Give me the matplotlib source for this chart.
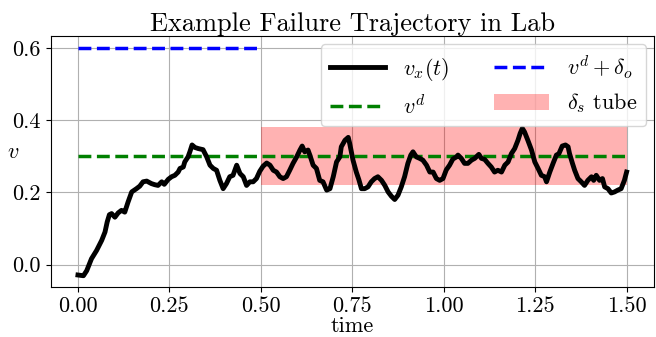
import numpy as np
import matplotlib
matplotlib.use("Agg")
import matplotlib.pyplot as plt

plt.rcParams['font.family'] = ['cmr10', 'DejaVu Serif']
plt.rcParams['mathtext.fontset'] = 'cm'
plt.rcParams['axes.formatter.use_mathtext'] = True
plt.rcParams['axes.unicode_minus'] = False

# trajectory samples
time_pts = [0.000, 0.015, 0.024, 0.037, 0.051, 0.065, 0.074, 0.080, 0.086, 0.092,
            0.101, 0.110, 0.119, 0.128, 0.137, 0.147, 0.160, 0.169, 0.178, 0.188,
            0.201, 0.210, 0.219, 0.229, 0.236, 0.247, 0.256, 0.265, 0.274, 0.279,
            0.288, 0.292, 0.301, 0.306, 0.312, 0.320, 0.329, 0.342, 0.352, 0.361,
            0.370, 0.379, 0.388, 0.397, 0.406, 0.415, 0.424, 0.434, 0.443, 0.452,
            0.461, 0.470, 0.479, 0.488, 0.497, 0.506, 0.516, 0.525, 0.534, 0.543,
            0.552, 0.561, 0.570, 0.579, 0.588, 0.598, 0.607, 0.613, 0.620, 0.629,
            0.634, 0.643, 0.652, 0.661, 0.670, 0.680, 0.689, 0.698, 0.707, 0.716,
            0.720, 0.730, 0.739, 0.743, 0.752, 0.761, 0.768, 0.775, 0.784, 0.793,
            0.802, 0.811, 0.820, 0.830, 0.839, 0.848, 0.857, 0.866, 0.875, 0.884,
            0.893, 0.902, 0.910, 0.916, 0.925, 0.934, 0.943, 0.953, 0.962, 0.971,
            0.980, 0.989, 0.998, 1.007, 1.016, 1.025, 1.035, 1.039, 1.048, 1.057,
            1.066, 1.076, 1.085, 1.096, 1.103, 1.112, 1.121, 1.130, 1.139, 1.148,
            1.158, 1.167, 1.176, 1.185, 1.194, 1.203, 1.209, 1.215, 1.221, 1.230,
            1.240, 1.249, 1.258, 1.267, 1.276, 1.281, 1.290, 1.299, 1.308, 1.315,
            1.324, 1.333, 1.340, 1.344, 1.352, 1.358, 1.367, 1.376, 1.385, 1.394,
            1.404, 1.410, 1.417, 1.426, 1.434, 1.440, 1.449, 1.458, 1.467, 1.476,
            1.485, 1.494, 1.500]
v_pts = [-0.029, -0.031, -0.017, 0.016, 0.039, 0.067, 0.090, 0.118, 0.138, 0.141,
         0.131, 0.143, 0.150, 0.145, 0.173, 0.201, 0.210, 0.217, 0.229, 0.231,
         0.224, 0.221, 0.219, 0.229, 0.222, 0.236, 0.243, 0.247, 0.256, 0.266,
         0.270, 0.284, 0.298, 0.312, 0.331, 0.324, 0.321, 0.318, 0.298, 0.275,
         0.266, 0.261, 0.233, 0.210, 0.224, 0.243, 0.247, 0.275, 0.252, 0.243,
         0.219, 0.229, 0.229, 0.238, 0.258, 0.272, 0.281, 0.275, 0.261, 0.256,
         0.243, 0.238, 0.243, 0.261, 0.280, 0.298, 0.317, 0.328, 0.312, 0.317,
         0.303, 0.275, 0.266, 0.233, 0.229, 0.206, 0.210, 0.243, 0.284, 0.298,
         0.326, 0.344, 0.352, 0.335, 0.289, 0.256, 0.235, 0.210, 0.210, 0.215,
         0.229, 0.238, 0.243, 0.233, 0.219, 0.201, 0.189, 0.180, 0.192, 0.215,
         0.243, 0.280, 0.303, 0.312, 0.298, 0.294, 0.289, 0.275, 0.256, 0.256,
         0.238, 0.233, 0.238, 0.262, 0.275, 0.292, 0.298, 0.303, 0.294, 0.280,
         0.280, 0.289, 0.294, 0.305, 0.294, 0.291, 0.280, 0.270, 0.256, 0.261,
         0.256, 0.275, 0.284, 0.307, 0.321, 0.344, 0.363, 0.377, 0.367, 0.344,
         0.317, 0.284, 0.266, 0.247, 0.243, 0.229, 0.256, 0.280, 0.303, 0.307,
         0.328, 0.331, 0.326, 0.307, 0.280, 0.261, 0.238, 0.229, 0.219, 0.233,
         0.243, 0.233, 0.247, 0.233, 0.238, 0.215, 0.210, 0.198, 0.201, 0.206,
         0.210, 0.233, 0.256]

v_desired = 0.3
delta_o = 0.3
delta_s = 0.08
t_end = 1.5
t_offset_end = 0.5
t_tube_start = 0.5

fig = plt.figure(figsize=(6.56, 3.37), dpi=100)
ax = fig.add_axes([0.077, 0.148, 0.920, 0.744])

ax.plot(time_pts, v_pts, color='black', lw=3.5, label=r'$v_x(t)$', zorder=4)
ax.plot([0, t_end], [v_desired, v_desired], color='green', ls='--', lw=2.5,
        label=r'$v^d$', zorder=3)
ax.plot([0, t_offset_end], [v_desired + delta_o] * 2, color='blue', ls='--', lw=2.5,
        label=r'$v^d + \delta_o$', zorder=3)
ax.fill_between([t_tube_start, t_end], v_desired - delta_s, v_desired + delta_s,
                color='red', alpha=0.3, lw=0, label=r'$\delta_s$ tube', zorder=2)

ax.set_xticks([0.0, 0.25, 0.5, 0.75, 1.0, 1.25, 1.5])
ax.set_xticklabels(['0.00', '0.25', '0.50', '0.75', '1.00', '1.25', '1.50'])
ax.set_yticks([0.0, 0.2, 0.4, 0.6])
ax.set_yticklabels(['0.0', '0.2', '0.4', '0.6'])
ax.tick_params(labelsize=16)
ax.grid(True, color='#b0b0b0', lw=0.8)
ax.set_axisbelow(True)

ax.set_title('Example Failure Trajectory in Lab', fontsize=19, pad=4)
ax.set_xlabel('time', fontsize=16, labelpad=0)
ax.set_ylabel(r'$v$', fontsize=16, rotation=0, labelpad=10)
ax.yaxis.set_label_coords(-0.062, 0.50)

ax.legend(loc='upper right', ncol=2, fontsize=16, handlelength=2.5,
          borderaxespad=0.35, columnspacing=2.0)

fig.savefig('out.png', dpi=100)
